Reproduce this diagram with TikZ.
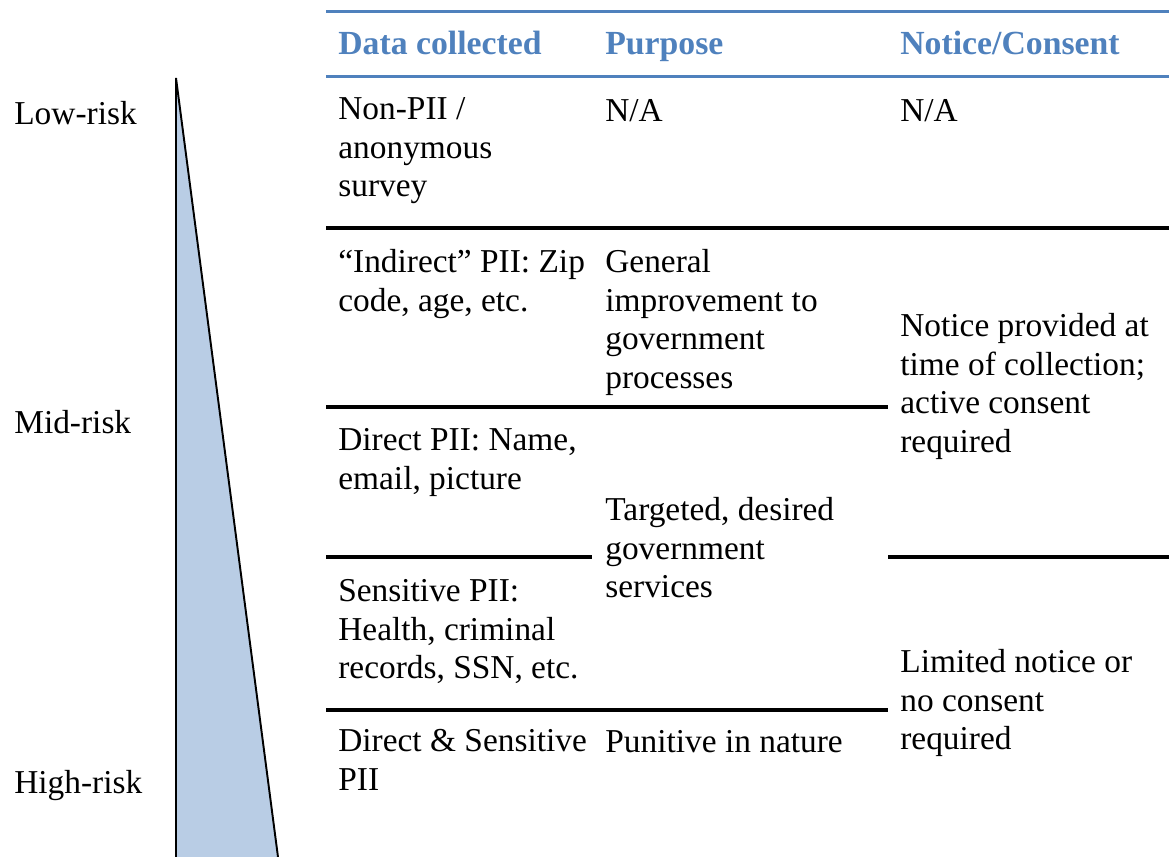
\documentclass[tikz,border=0pt]{standalone}
\usepackage{fontspec}
\setmainfont{Liberation Serif}
\usetikzlibrary{positioning}
\usepackage{xcolor}
\definecolor{headblue}{HTML}{4F81BD}
\definecolor{riskfill}{HTML}{B9CDE5}

\begin{document}
\begin{tikzpicture}[x=0.02cm, y=-0.02cm,
      cell/.style={anchor=north west, inner sep=0pt, align=left, font=\fontsize{19pt}{22pt}\selectfont, execute at begin node=\strut},
      head/.style={cell, font=\fontsize{19.2pt}{22pt}\selectfont\bfseries, text=headblue},
      level/.style={cell},
      bluerule/.style={draw=headblue, line width=1.7pt},
      blackrule/.style={draw=black, line width=2pt},
      wedge/.style={draw=black, line width=1.1pt, line join=miter},
    ]
    \useasboundingbox (0,0) rectangle (1169,857);

    \fill[riskfill] (176,78) -- (176,857) -- (278,857) -- cycle;
    \draw[wedge] (176,857) -- (176,78) -- (278,857);

    \node[level] (low) at (14,97) {Low-risk};
    \node[level] (mid) at (14,406) {Mid-risk};
    \node[level] (high) at (14,766) {High-risk};

    \draw[bluerule] (326,12) -- (1169,12);
    \draw[bluerule] (326,77) -- (1169,77);
    \node[head] (hdata) at (338,27) {Data collected};
    \node[head] (hpurpose) at (605,27) {Purpose};
    \node[head] (hnotice) at (900,27) {Notice/Consent};

    \node[cell] (d1) at (338,97) {Non-PII /\\anonymous\\survey};
    \node[cell] (p1) at (605,94) {N/A};
    \node[cell] (n1) at (900,94) {N/A};
    \draw[blackrule] (326,228) -- (1169,228);

    \node[cell] (d2) at (338,249) {“Indirect” PII: Zip\\code, age, etc.};
    \node[cell] (p2) at (605,249) {General\\improvement to\\government\\processes};
    \node[cell] (n2) at (900,313) {Notice provided at\\time of collection;\\active consent\\required};
    \draw[blackrule] (326,407) -- (888,407);

    \node[cell] (d3) at (338,428) {Direct PII: Name,\\email, picture};
    \node[cell] (p3) at (605,497) {Targeted, desired\\government\\services};
    \draw[blackrule] (326,557) -- (592,557);
    \draw[blackrule] (888,557) -- (1169,557);

    \node[cell] (d4) at (338,579) {Sensitive PII:\\Health, criminal\\records, SSN, etc.};
    \node[cell] (n4) at (900,649) {Limited notice or\\no consent\\required};
    \draw[blackrule] (326,710) -- (888,710);

    \node[cell] (d5) at (338,729) {Direct \& Sensitive\\PII};
    \node[cell] (p5) at (605,725) {Punitive in nature};
  \end{tikzpicture}
\end{document}
